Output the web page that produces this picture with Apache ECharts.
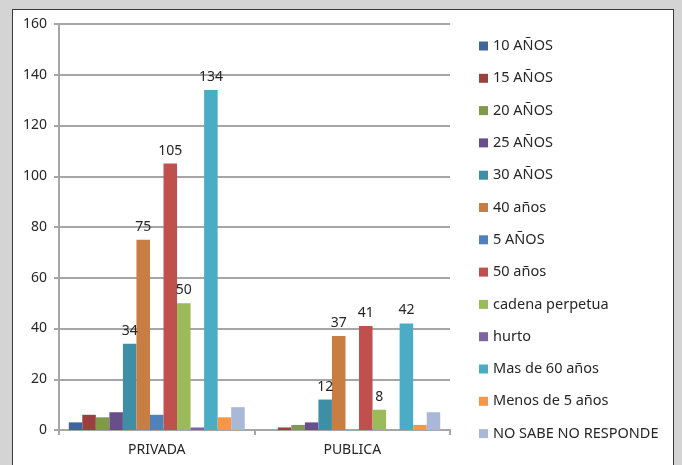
<!DOCTYPE html>
<html>
<head>
<meta charset="utf-8">
<script src="https://cdn.jsdelivr.net/npm/echarts@6/dist/echarts.min.js"></script>
<style>
  html, body { margin: 0; padding: 0; background: #d4d4d4; }
  .frame {
    position: absolute; left: 12px; top: 9px; width: 660px; height: 470px;
    background: #fff; border: 1px solid #3a3a3a;
  }
  #chart { position: absolute; left: 0; top: 0; width: 682px; height: 465px; }
</style>
</head>
<body>
<div class="frame"></div>
<div id="chart"></div>
<script>
const categories = ['PRIVADA', 'PUBLICA']
const seriesNames = [
  '10 AÑOS', '15 AÑOS', '20 AÑOS', '25 AÑOS', '30 AÑOS', '40 años', '5 AÑOS',
  '50 años', 'cadena perpetua', 'hurto', 'Mas de 60 años', 'Menos de 5 años', 'NO SABE NO RESPONDE',
]
const privadaValues = [3, 6, 5, 7, 34, 75, 6, 105, 50, 1, 134, 5, 9]
const publicaValues = [0, 1, 2, 3, 12, 37, 0, 41, 8, 0, 42, 2, 7]
const labeledSeries = ['30 AÑOS', '40 años', '50 años', 'cadena perpetua', 'Mas de 60 años']
const yTicks = { min: 0, max: 160, interval: 20 }

const colors = [
  '#3f6696', '#9a413f', '#7f9a48', '#684f89', '#3e8fa5', '#c87d42', '#4f81bd',
  '#c0504d', '#9bbb59', '#8064a2', '#4bacc6', '#f79646', '#a9b8d7',
]

const FONT = 'Noto Sans'
const chart = echarts.init(document.getElementById('chart'))

const series = seriesNames.map((name, i) => ({
  name,
  type: 'bar',
  data: [privadaValues[i], publicaValues[i]],
  barGap: '0%',
  barCategoryGap: '10%',
  itemStyle: { color: colors[i] },
  label: {
    show: labeledSeries.includes(name),
    position: 'top',
    distance: 6,
    color: '#262626',
    fontFamily: FONT,
    fontSize: 14,
  },
}))

chart.setOption({
  animation: false,
  color: colors,
  textStyle: { fontFamily: FONT },
  grid: { left: 59, right: 232, top: 24, bottom: 35 },
  legend: {
    orient: 'vertical',
    left: 474,
    top: 32,
    icon: 'rect',
    itemWidth: 9,
    itemHeight: 9,
    itemGap: 14.3,
    textStyle: { color: '#262626', fontSize: 14.5, fontFamily: FONT, lineHeight: 18 },
    data: seriesNames,
  },
  xAxis: {
    type: 'category',
    data: categories,
    axisLine: { lineStyle: { color: '#a6a6a6', width: 2 } },
    axisTick: { show: true, length: 5, lineStyle: { color: '#a6a6a6', width: 2 } },
    axisLabel: { color: '#262626', fontSize: 14, fontFamily: FONT, margin: 13 },
  },
  yAxis: {
    type: 'value',
    min: yTicks.min,
    max: yTicks.max,
    interval: yTicks.interval,
    axisLine: { show: true, lineStyle: { color: '#a6a6a6', width: 2 } },
    axisTick: { show: true, length: 5, lineStyle: { color: '#a6a6a6', width: 2 } },
    axisLabel: { color: '#262626', fontSize: 14, fontFamily: FONT, margin: 12 },
    splitLine: { lineStyle: { color: '#a6a6a6', width: 2 } },
  },
  series,
})
</script>
</body>
</html>
